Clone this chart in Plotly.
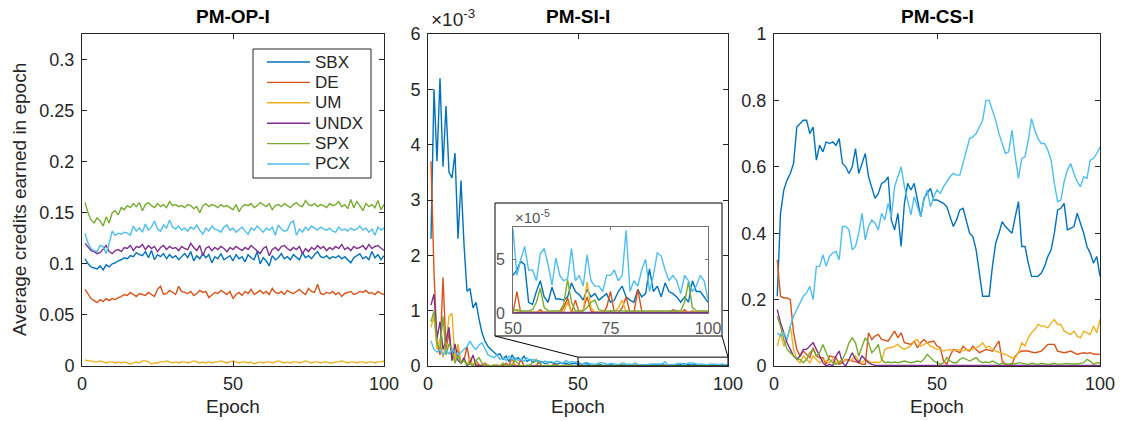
import plotly.graph_objects as go

W, H = 1126, 421
epochs = list(range(1, 101))
operators = ["SBX", "DE", "UM", "UNDX", "SPX", "PCX"]
colors = ["#0072BD", "#D95319", "#EDB120", "#7E2F8E", "#77AC30", "#4DBEEE"]
titles = ["PM-OP-I", "PM-SI-I", "PM-CS-I"]

# ---------------- PM-OP-I ----------------
op_sbx = [0.105, 0.100, 0.097, 0.096, 0.095, 0.098, 0.094, 0.099, 0.097, 0.100,
          0.101, 0.103, 0.104, 0.106, 0.105, 0.108, 0.107, 0.111, 0.109, 0.108,
          0.112, 0.106, 0.113, 0.104, 0.109, 0.107, 0.110, 0.105, 0.109, 0.106,
          0.108, 0.104, 0.107, 0.110, 0.106, 0.112, 0.103, 0.108, 0.105, 0.110,
          0.106, 0.109, 0.101, 0.107, 0.105, 0.110, 0.104, 0.106, 0.108, 0.103,
          0.109, 0.105, 0.107, 0.102, 0.109, 0.106, 0.104, 0.112, 0.100, 0.106,
          0.103, 0.098, 0.108, 0.104, 0.106, 0.110, 0.105, 0.107, 0.104, 0.109,
          0.106, 0.104, 0.111, 0.106, 0.108, 0.105, 0.109, 0.112, 0.107, 0.106,
          0.108, 0.105, 0.107, 0.106, 0.108, 0.105, 0.107, 0.104, 0.101, 0.106,
          0.108, 0.110, 0.105, 0.107, 0.104, 0.112, 0.106, 0.109, 0.104, 0.108]
op_de = [0.075, 0.070, 0.066, 0.064, 0.062, 0.065, 0.063, 0.066, 0.064, 0.066,
         0.065, 0.067, 0.068, 0.070, 0.069, 0.072, 0.070, 0.068, 0.071, 0.070,
         0.069, 0.072, 0.070, 0.068, 0.075, 0.078, 0.070, 0.071, 0.074, 0.072,
         0.070, 0.078, 0.073, 0.072, 0.071, 0.073, 0.069, 0.071, 0.074, 0.072,
         0.073, 0.067, 0.070, 0.072, 0.071, 0.074, 0.072, 0.070, 0.073, 0.066,
         0.070, 0.072, 0.069, 0.073, 0.071, 0.075, 0.070, 0.072, 0.074, 0.071,
         0.073, 0.070, 0.076, 0.072, 0.071, 0.073, 0.070, 0.074, 0.072, 0.071,
         0.073, 0.075, 0.072, 0.070, 0.076, 0.073, 0.072, 0.080, 0.071, 0.070,
         0.072, 0.071, 0.073, 0.070, 0.072, 0.068, 0.071, 0.072, 0.073, 0.070,
         0.071, 0.073, 0.072, 0.074, 0.071, 0.072, 0.070, 0.073, 0.071, 0.070]
op_um = [0.006, 0.005, 0.005, 0.004, 0.004, 0.005, 0.004, 0.003, 0.004, 0.004,
         0.003, 0.004, 0.003, 0.004, 0.003, 0.002, 0.003, 0.004, 0.003, 0.005,
         0.005, 0.004, 0.002, 0.003, 0.003, 0.004, 0.004, 0.005, 0.004, 0.003,
         0.004, 0.003, 0.004, 0.004, 0.003, 0.004, 0.005, 0.004, 0.003, 0.004,
         0.003, 0.004, 0.003, 0.004, 0.004, 0.005, 0.004, 0.003, 0.004, 0.005,
         0.004, 0.003, 0.004, 0.004, 0.003, 0.004, 0.002, 0.003, 0.004, 0.003,
         0.004, 0.004, 0.003, 0.004, 0.005, 0.004, 0.003, 0.004, 0.003, 0.004,
         0.004, 0.003, 0.004, 0.005, 0.004, 0.003, 0.004, 0.004, 0.003, 0.004,
         0.004, 0.003, 0.003, 0.004, 0.004, 0.005, 0.004, 0.003, 0.004, 0.004,
         0.003, 0.004, 0.004, 0.003, 0.004, 0.004, 0.003, 0.004, 0.004, 0.005]
op_undx = [0.120, 0.116, 0.113, 0.112, 0.110, 0.111, 0.114, 0.118, 0.112, 0.110,
           0.113, 0.114, 0.112, 0.116, 0.115, 0.118, 0.113, 0.117, 0.116, 0.119,
           0.114, 0.118, 0.115, 0.117, 0.112, 0.116, 0.118, 0.114, 0.117, 0.115,
           0.116, 0.113, 0.117, 0.115, 0.114, 0.120, 0.116, 0.113, 0.118, 0.108,
           0.115, 0.117, 0.113, 0.116, 0.114, 0.117, 0.115, 0.112, 0.116, 0.114,
           0.117, 0.115, 0.113, 0.116, 0.114, 0.118, 0.115, 0.113, 0.110, 0.115,
           0.117, 0.108, 0.114, 0.116, 0.113, 0.117, 0.118, 0.115, 0.113, 0.116,
           0.114, 0.117, 0.110, 0.115, 0.112, 0.116, 0.114, 0.118, 0.115, 0.117,
           0.113, 0.116, 0.114, 0.117, 0.115, 0.119, 0.114, 0.116, 0.113, 0.117,
           0.115, 0.116, 0.118, 0.114, 0.119, 0.115, 0.117, 0.118, 0.115, 0.113]
op_spx = [0.160, 0.150, 0.143, 0.140, 0.145, 0.142, 0.137, 0.146, 0.140, 0.150,
          0.152, 0.148, 0.155, 0.153, 0.157, 0.155, 0.159, 0.156, 0.160, 0.152,
          0.158, 0.160, 0.157, 0.155, 0.159, 0.156, 0.158, 0.155, 0.161, 0.157,
          0.158, 0.156, 0.157, 0.155, 0.158, 0.157, 0.154, 0.156, 0.150, 0.157,
          0.159, 0.156, 0.158, 0.157, 0.155, 0.158, 0.156, 0.157, 0.155, 0.153,
          0.158, 0.151, 0.156, 0.158, 0.157, 0.159, 0.155, 0.157, 0.160, 0.158,
          0.156, 0.159, 0.153, 0.157, 0.158, 0.156, 0.159, 0.157, 0.155, 0.158,
          0.160, 0.157, 0.156, 0.162, 0.158, 0.157, 0.159, 0.156, 0.158, 0.157,
          0.155, 0.159, 0.157, 0.158, 0.161, 0.156, 0.158, 0.154, 0.163, 0.155,
          0.161, 0.157, 0.152, 0.159, 0.156, 0.158, 0.155, 0.162, 0.153, 0.158]
op_pcx = [0.130, 0.120, 0.115, 0.113, 0.112, 0.118, 0.117, 0.110, 0.120, 0.132,
          0.128, 0.130, 0.129, 0.131, 0.130, 0.128, 0.137, 0.132, 0.135, 0.131,
          0.139, 0.133, 0.136, 0.142, 0.134, 0.132, 0.138, 0.135, 0.143, 0.136,
          0.134, 0.137, 0.133, 0.135, 0.132, 0.136, 0.134, 0.138, 0.133, 0.129,
          0.135, 0.132, 0.137, 0.134, 0.133, 0.131, 0.136, 0.138, 0.133, 0.135,
          0.131, 0.134, 0.136, 0.132, 0.129, 0.135, 0.133, 0.137, 0.134, 0.131,
          0.135, 0.133, 0.136, 0.128, 0.138, 0.134, 0.132, 0.133, 0.140, 0.142,
          0.128, 0.134, 0.131, 0.136, 0.133, 0.137, 0.135, 0.133, 0.136, 0.134,
          0.133, 0.135, 0.132, 0.131, 0.136, 0.133, 0.134, 0.132, 0.135, 0.133,
          0.134, 0.137, 0.133, 0.135, 0.131, 0.134, 0.128, 0.136, 0.133, 0.135]

# ---------------- PM-SI-I (values in units of 1e-3) ----------------
si_sbx = [2.30, 5.00, 3.70, 5.20, 3.60, 4.70, 3.50, 3.40, 3.85, 2.30,
          3.35, 2.20, 1.35, 1.40, 1.05, 1.15, 0.85, 0.60, 0.45, 0.35,
          0.30, 0.25, 0.20, 0.22, 0.12, 0.18, 0.08, 0.20, 0.12, 0.15,
          0.10, 0.18, 0.08, 0.12, 0.06, 0.10, 0.05, 0.08, 0.04, 0.06,
          0.07, 0.05, 0.03, 0.06, 0.04, 0.05, 0.03, 0.04, 0.05, 0.035,
          0.040, 0.048, 0.045, 0.010, 0.008, 0.020, 0.030, 0.015, 0.010, 0.024,
          0.013, 0.013, 0.012, 0.015, 0.028, 0.020, 0.017, 0.012, 0.022, 0.015,
          0.018, 0.012, 0.015, 0.018, 0.010, 0.012, 0.020, 0.025, 0.015, 0.012,
          0.010, 0.022, 0.015, 0.018, 0.041, 0.020, 0.025, 0.015, 0.028, 0.020,
          0.018, 0.015, 0.010, 0.015, 0.010, 0.030, 0.020, 0.020, 0.015, 0.010]
si_de = [3.70, 1.70, 0.40, 0.20, 1.60, 0.30, 0.60, 0.10, 0.20, 0.30,
         0.05, 0.10, 0.35, 0.05, 0.00, 0.10, 0.02, 0.00, 0.05, 0.00,
         0.00, 0.00, 0.02, 0.00, 0.00, 0.05, 0.00, 0.15, 0.00, 0.00,
         0.12, 0.00, 0.00, 0.02, 0.00, 0.00, 0.08, 0.00, 0.00, 0.00,
         0.00, 0.03, 0.00, 0.00, 0.00, 0.02, 0.00, 0.00, 0.00, 0.00,
         0.020, 0.000, 0.000, 0.000, 0.000, 0.000, 0.003, 0.000, 0.000, 0.000,
         0.000, 0.000, 0.005, 0.014, 0.000, 0.012, 0.000, 0.003, 0.015, 0.002,
         0.000, 0.000, 0.000, 0.005, 0.020, 0.000, 0.000, 0.005, 0.015, 0.000,
         0.000, 0.022, 0.002, 0.000, 0.000, 0.000, 0.000, 0.000, 0.000, 0.000,
         0.003, 0.002, 0.000, 0.003, 0.000, 0.002, 0.000, 0.000, 0.000, 0.000]
si_um = [0.70, 0.90, 0.30, 0.50, 0.15, 0.40, 0.90, 0.95, 0.10, 0.40,
         0.05, 0.10, 0.02, 0.15, 0.00, 0.05, 0.00, 0.02, 0.00, 0.00,
         0.00, 0.02, 0.00, 0.00, 0.05, 0.00, 0.00, 0.00, 0.03, 0.00,
         0.00, 0.00, 0.00, 0.00, 0.00, 0.02, 0.00, 0.00, 0.00, 0.00,
         0.00, 0.00, 0.00, 0.00, 0.00, 0.00, 0.00, 0.00, 0.00, 0.00,
         0.001, 0.001, 0.001, 0.001, 0.001, 0.001, 0.001, 0.001, 0.001, 0.001,
         0.001, 0.001, 0.001, 0.010, 0.001, 0.001, 0.001, 0.002, 0.029, 0.005,
         0.001, 0.001, 0.001, 0.001, 0.001, 0.001, 0.005, 0.012, 0.001, 0.001,
         0.001, 0.001, 0.001, 0.001, 0.001, 0.001, 0.001, 0.001, 0.001, 0.001,
         0.001, 0.001, 0.001, 0.001, 0.001, 0.001, 0.001, 0.001, 0.001, 0.001]
si_undx = [1.10, 1.30, 0.50, 0.80, 0.30, 0.45, 0.70, 0.10, 0.40, 0.10,
           0.05, 0.15, 0.00, 0.05, 0.20, 0.00, 0.02, 0.00, 0.00, 0.00,
           0.00, 0.00, 0.00, 0.01, 0.00, 0.00, 0.00, 0.00, 0.00, 0.00,
           0.00, 0.00, 0.00, 0.00, 0.00, 0.00, 0.00, 0.00, 0.00, 0.00,
           0.00, 0.00, 0.00, 0.00, 0.00, 0.00, 0.00, 0.00, 0.00, 0.00,
           0.0005, 0.0005, 0.0005, 0.0005, 0.0005, 0.0005, 0.0005, 0.0005, 0.0005, 0.0005,
           0.0005, 0.0005, 0.0005, 0.0005, 0.0005, 0.0005, 0.0005, 0.0005, 0.0005, 0.0005,
           0.0005, 0.0005, 0.0005, 0.0005, 0.0005, 0.0005, 0.0005, 0.0005, 0.0005, 0.0005,
           0.0005, 0.0005, 0.0005, 0.0005, 0.0005, 0.0005, 0.0005, 0.0005, 0.0005, 0.0005,
           0.0005, 0.0005, 0.0005, 0.0005, 0.0005, 0.0005, 0.0005, 0.0005, 0.0005, 0.0005]
si_spx = [0.80, 1.00, 0.40, 0.30, 0.90, 0.20, 0.40, 0.30, 0.05, 0.20,
          0.05, 0.10, 0.02, 0.05, 0.00, 0.10, 0.15, 0.05, 0.00, 0.02,
          0.00, 0.02, 0.00, 0.00, 0.05, 0.00, 0.00, 0.03, 0.10, 0.05,
          0.00, 0.00, 0.02, 0.00, 0.08, 0.12, 0.05, 0.00, 0.00, 0.02,
          0.00, 0.00, 0.03, 0.00, 0.00, 0.00, 0.02, 0.00, 0.00, 0.002,
          0.003, 0.002, 0.002, 0.002, 0.003, 0.010, 0.023, 0.005, 0.002, 0.002,
          0.002, 0.002, 0.008, 0.031, 0.010, 0.002, 0.002, 0.002, 0.005, 0.010,
          0.012, 0.003, 0.002, 0.002, 0.002, 0.002, 0.002, 0.002, 0.002, 0.002,
          0.002, 0.002, 0.002, 0.002, 0.002, 0.002, 0.002, 0.002, 0.002, 0.002,
          0.002, 0.002, 0.002, 0.010, 0.029, 0.005, 0.002, 0.002, 0.002, 0.002]
si_pcx = [0.45, 0.30, 0.25, 0.30, 0.20, 0.28, 0.22, 0.30, 0.25, 0.20,
          0.25, 0.30, 0.35, 0.45, 0.35, 0.30, 0.38, 0.42, 0.30, 0.20,
          0.18, 0.15, 0.20, 0.12, 0.15, 0.10, 0.18, 0.12, 0.15, 0.10,
          0.12, 0.08, 0.15, 0.10, 0.12, 0.08, 0.10, 0.06, 0.09, 0.07,
          0.08, 0.06, 0.09, 0.07, 0.05, 0.10, 0.06, 0.08, 0.07, 0.078,
          0.035, 0.050, 0.062, 0.040, 0.040, 0.030, 0.055, 0.060, 0.045, 0.026,
          0.051, 0.035, 0.030, 0.032, 0.060, 0.030, 0.035, 0.025, 0.054, 0.030,
          0.025, 0.025, 0.020, 0.035, 0.035, 0.040, 0.030, 0.035, 0.077, 0.020,
          0.030, 0.025, 0.040, 0.050, 0.020, 0.035, 0.056, 0.053, 0.040, 0.030,
          0.035, 0.030, 0.018, 0.035, 0.030, 0.020, 0.025, 0.035, 0.030, 0.013]

# ---------------- PM-CS-I ----------------
cs_sbx = [0.21, 0.46, 0.53, 0.56, 0.58, 0.61, 0.72, 0.73, 0.74, 0.74,
          0.70, 0.72, 0.62, 0.665, 0.645, 0.675, 0.67, 0.675, 0.665, 0.685,
          0.61, 0.60, 0.58, 0.60, 0.655, 0.58, 0.61, 0.64, 0.57, 0.54,
          0.505, 0.52, 0.55, 0.555, 0.57, 0.44, 0.41, 0.46, 0.36, 0.49,
          0.55, 0.53, 0.55, 0.50, 0.45, 0.505, 0.52, 0.535, 0.50, 0.50,
          0.495, 0.49, 0.48, 0.45, 0.42, 0.44, 0.47, 0.475, 0.44, 0.40,
          0.39, 0.35, 0.28, 0.21, 0.21, 0.21, 0.30, 0.37, 0.40, 0.435,
          0.42, 0.41, 0.40, 0.45, 0.495, 0.36, 0.36, 0.31, 0.27, 0.27,
          0.27, 0.28, 0.30, 0.33, 0.35, 0.40, 0.47, 0.475, 0.49, 0.41,
          0.415, 0.42, 0.46, 0.43, 0.40, 0.36, 0.34, 0.31, 0.33, 0.27]
cs_de = [0.32, 0.21, 0.205, 0.205, 0.20, 0.10, 0.05, 0.03, 0.045, 0.035,
         0.025, 0.055, 0.03, 0.025, 0.025, 0.005, 0.03, 0.028, 0.025, 0.005,
         0.01, 0.02, 0.018, 0.015, 0.012, 0.01, 0.005, 0.005, 0.10, 0.08,
         0.09, 0.095, 0.08, 0.078, 0.075, 0.09, 0.105, 0.085, 0.10, 0.07,
         0.068, 0.065, 0.075, 0.055, 0.07, 0.08, 0.07, 0.072, 0.075, 0.06,
         0.055, 0.015, 0.005, 0.03, 0.05, 0.045, 0.04, 0.06, 0.05, 0.045,
         0.06, 0.05, 0.04, 0.045, 0.05, 0.048, 0.045, 0.06, 0.075, 0.015,
         0.005, 0.005, 0.005, 0.03, 0.04, 0.045, 0.045, 0.045, 0.042, 0.04,
         0.042, 0.045, 0.055, 0.065, 0.065, 0.065, 0.045, 0.042, 0.04, 0.042,
         0.045, 0.04, 0.035, 0.038, 0.04, 0.038, 0.04, 0.036, 0.035, 0.035]
cs_um = [0.06, 0.10, 0.06, 0.08, 0.12, 0.05, 0.02, 0.01, 0.03, 0.02,
         0.01, 0.03, 0.02, 0.01, 0.02, 0.015, 0.01, 0.02, 0.01, 0.015,
         0.01, 0.02, 0.015, 0.02, 0.03, 0.015, 0.01, 0.02, 0.015, 0.01,
         0.012, 0.01, 0.015, 0.05, 0.055, 0.055, 0.06, 0.065, 0.055, 0.05,
         0.055, 0.06, 0.075, 0.08, 0.06, 0.065, 0.07, 0.06, 0.055, 0.05,
         0.05, 0.045, 0.048, 0.05, 0.045, 0.05, 0.048, 0.045, 0.05, 0.048,
         0.05, 0.055, 0.06, 0.07, 0.055, 0.06, 0.05, 0.045, 0.042, 0.04,
         0.035, 0.03, 0.025, 0.025, 0.04, 0.07, 0.06, 0.085, 0.10, 0.11,
         0.125, 0.12, 0.12, 0.115, 0.13, 0.14, 0.125, 0.125, 0.105, 0.10,
         0.095, 0.105, 0.09, 0.085, 0.105, 0.10, 0.095, 0.12, 0.10, 0.14]
cs_undx = [0.17, 0.13, 0.10, 0.07, 0.05, 0.03, 0.02, 0.03, 0.05, 0.05,
           0.06, 0.07, 0.05, 0.03, 0.01, 0.00, 0.005, 0.00, 0.03, 0.045,
           0.01, 0.00, 0.02, 0.04, 0.02, 0.01, 0.03, 0.02, 0.01, 0.005,
           0.002, 0.002, 0.002, 0.002, 0.002, 0.002, 0.002, 0.002, 0.002, 0.002,
           0.002, 0.002, 0.002, 0.002, 0.002, 0.002, 0.002, 0.002, 0.002, 0.002,
           0.002, 0.002, 0.002, 0.002, 0.002, 0.002, 0.002, 0.002, 0.002, 0.002,
           0.002, 0.002, 0.002, 0.002, 0.002, 0.002, 0.002, 0.002, 0.002, 0.002,
           0.002, 0.002, 0.002, 0.002, 0.002, 0.002, 0.002, 0.002, 0.002, 0.002,
           0.002, 0.002, 0.002, 0.002, 0.002, 0.002, 0.002, 0.002, 0.002, 0.002,
           0.002, 0.002, 0.002, 0.002, 0.002, 0.002, 0.002, 0.002, 0.002, 0.002]
cs_spx = [0.15, 0.12, 0.08, 0.05, 0.04, 0.03, 0.02, 0.02, 0.01, 0.02,
          0.04, 0.05, 0.03, 0.04, 0.065, 0.04, 0.02, 0.01, 0.005, 0.01,
          0.02, 0.04, 0.07, 0.085, 0.07, 0.03, 0.06, 0.085, 0.07, 0.04,
          0.05, 0.065, 0.02, 0.01, 0.012, 0.01, 0.012, 0.01, 0.012, 0.015,
          0.012, 0.01, 0.012, 0.015, 0.012, 0.02, 0.035, 0.025, 0.015, 0.01,
          0.005, 0.01, 0.025, 0.015, 0.01, 0.01, 0.02, 0.025, 0.02, 0.015,
          0.02, 0.025, 0.015, 0.01, 0.012, 0.01, 0.015, 0.01, 0.005, 0.008,
          0.006, 0.005, 0.008, 0.006, 0.01, 0.008, 0.006, 0.005, 0.008, 0.006,
          0.005, 0.008, 0.006, 0.005, 0.006, 0.008, 0.005, 0.006, 0.005, 0.008,
          0.006, 0.005, 0.006, 0.008, 0.01, 0.02, 0.015, 0.005, 0.01, 0.01]
cs_pcx = [0.10, 0.09, 0.10, 0.08, 0.12, 0.15, 0.17, 0.19, 0.21, 0.22,
          0.24, 0.20, 0.30, 0.30, 0.335, 0.30, 0.33, 0.34, 0.345, 0.32,
          0.42, 0.42, 0.41, 0.35, 0.36, 0.40, 0.46, 0.38, 0.42, 0.44,
          0.43, 0.41, 0.46, 0.44, 0.49, 0.45, 0.54, 0.57, 0.60, 0.54,
          0.50, 0.455, 0.51, 0.48, 0.45, 0.50, 0.53, 0.48, 0.51, 0.53,
          0.52, 0.54, 0.555, 0.57, 0.58, 0.575, 0.575, 0.61, 0.65, 0.685,
          0.69, 0.70, 0.72, 0.74, 0.80, 0.80, 0.77, 0.74, 0.70, 0.67,
          0.64, 0.645, 0.71, 0.63, 0.565, 0.625, 0.63, 0.68, 0.745, 0.71,
          0.685, 0.67, 0.67, 0.65, 0.62, 0.55, 0.495, 0.50, 0.555, 0.59,
          0.61, 0.58, 0.555, 0.54, 0.57, 0.565, 0.62, 0.625, 0.64, 0.66]

op_series = [op_sbx, op_de, op_um, op_undx, op_spx, op_pcx]
si_series = [si_sbx, si_de, si_um, si_undx, si_spx, si_pcx]
cs_series = [cs_sbx, cs_de, cs_um, cs_undx, cs_spx, cs_pcx]

x_ticks = [0, 50, 100]
op_yticks = [0, 0.05, 0.1, 0.15, 0.2, 0.25, 0.3]
op_yticklabels = ["0", "0.05", "0.1", "0.15", "0.2", "0.25", "0.3"]
si_yticks = [0, 1, 2, 3, 4, 5, 6]
cs_yticks = [0, 0.2, 0.4, 0.6, 0.8, 1]
cs_yticklabels = ["0", "0.2", "0.4", "0.6", "0.8", "1"]
inset_xticks = [50, 75, 100]
inset_yticks = [0, 0.05]
inset_yticklabels = ["0", "5"]

# ---------------- layout geometry (pixels) ----------------
def px_x(p):
    return p / W

def px_y(p):
    return 1 - p / H

panel_x = [(82, 384), (428, 728), (774, 1100)]
panel_top, panel_bot = 34, 366
inset_x = (513, 708)
inset_y = (227, 313)
inset_box = (495, 203, 722, 336)
legend_box = (253, 49, 371, 178)
legend_first_y, legend_step = 62, 20.4
legend_line = (267, 310)
si_range = [0, 6]
zoom_top = 0.16

AX = "#262626"
FONT = "Liberation Sans, Arial, Helvetica, sans-serif"
LW = 1.4

fig = go.Figure()

panels = [op_series, si_series, cs_series]
for p, series in enumerate(panels):
    ax = "" if p == 0 else str(p + 1)
    for name, col, vals in zip(operators, colors, series):
        fig.add_trace(go.Scatter(
            x=epochs, y=vals, mode="lines", name=name,
            line=dict(color=col, width=LW),
            xaxis="x" + ax, yaxis="y" + ax,
            showlegend=False, hoverinfo="skip"))

# inset traces (epochs 50..100 of PM-SI-I)
for name, col, vals in zip(operators, colors, si_series):
    fig.add_trace(go.Scatter(
        x=epochs[49:], y=vals[49:], mode="lines", name=name,
        line=dict(color=col, width=LW),
        xaxis="x4", yaxis="y4", showlegend=False, hoverinfo="skip"))

common_ax = dict(showline=True, linecolor=AX, linewidth=1, mirror="ticks",
                 ticks="inside", ticklen=5, tickcolor=AX, showgrid=False,
                 zeroline=False, automargin=False,
                 tickfont=dict(size=18, color=AX, family=FONT))

yranges = [[0, 0.325], si_range, [0, 1]]
ytickv = [op_yticks, si_yticks, cs_yticks]
ytickt = [op_yticklabels, [str(v) for v in si_yticks], cs_yticklabels]
lay = {}
for p in range(3):
    suf = "" if p == 0 else str(p + 1)
    x0, x1 = panel_x[p]
    lay["xaxis" + suf] = dict(common_ax, domain=[px_x(x0), px_x(x1)], range=[0, 100],
                              tickvals=x_ticks, anchor="y" + suf, ticklabelstandoff=1)
    lay["yaxis" + suf] = dict(common_ax, domain=[px_y(panel_bot), px_y(panel_top)],
                              range=yranges[p], tickvals=ytickv[p], ticktext=ytickt[p],
                              anchor="x" + suf, ticklabelstandoff=3)

INS = "#555555"
INSL = "#707070"
lay["xaxis4"] = dict(common_ax, domain=[px_x(inset_x[0]), px_x(inset_x[1])], range=[50, 100],
                     tickvals=inset_xticks, anchor="y4", linecolor=INSL,
                     tickcolor=INSL, tickfont=dict(size=16, color=INS, family=FONT), ticklen=3,
                     ticklabelstandoff=1)
lay["yaxis4"] = dict(common_ax, domain=[px_y(inset_y[1]), px_y(inset_y[0])], range=[0, 0.08],
                     tickvals=inset_yticks, ticktext=inset_yticklabels, anchor="x4",
                     linecolor=INSL, tickcolor=INSL,
                     tickfont=dict(size=16, color=INS, family=FONT), ticklen=3,
                     ticklabelstandoff=4)

annotations = []
for p in range(3):
    x0, x1 = panel_x[p]
    annotations.append(dict(text="<b>%s</b>" % titles[p], x=px_x((x0 + x1) / 2), y=px_y(16),
                            xref="paper", yref="paper", showarrow=False,
                            xanchor="center", yanchor="middle",
                            font=dict(size=19, color="black", family=FONT)))
    annotations.append(dict(text="Epoch", x=px_x((x0 + x1) / 2), y=px_y(406),
                            xref="paper", yref="paper", showarrow=False,
                            xanchor="center", yanchor="middle",
                            font=dict(size=19, color=AX, family=FONT)))
annotations.append(dict(text="Average credits earned in epoch", x=px_x(19), y=px_y(200),
                        xref="paper", yref="paper", showarrow=False, textangle=-90,
                        xanchor="center", yanchor="middle",
                        font=dict(size=19, color=AX, family=FONT)))
annotations.append(dict(text="×10<sup>-3</sup>", x=px_x(429), y=px_y(18), xanchor="left",
                        yanchor="middle", xref="paper", yref="paper", showarrow=False,
                        font=dict(size=19, color=AX, family=FONT)))
annotations.append(dict(text="×10<sup>-5</sup>", x=px_x(513), y=px_y(216), xanchor="left",
                        yanchor="middle", xref="paper", yref="paper", showarrow=False,
                        font=dict(size=15, color=INS, family=FONT)))

# legend (drawn as layout items)
lx0, ly0, lx1, ly1 = legend_box
shapes = [dict(type="rect", xref="paper", yref="paper", x0=px_x(lx0), x1=px_x(lx1),
               y0=px_y(ly1), y1=px_y(ly0), line=dict(color=AX, width=1),
               fillcolor="white", layer="above")]
for i, (name, col) in enumerate(zip(operators, colors)):
    yy = legend_first_y + i * legend_step
    shapes.append(dict(type="line", xref="paper", yref="paper",
                       x0=px_x(legend_line[0]), x1=px_x(legend_line[1]),
                       y0=px_y(yy), y1=px_y(yy), line=dict(color=col, width=LW)))
    annotations.append(dict(text=name, x=px_x(legend_line[1] + 3), y=px_y(yy),
                            xanchor="left", yanchor="middle", xref="paper", yref="paper",
                            showarrow=False, font=dict(size=17, color=AX, family=FONT)))

# zoom rectangle and connectors
sx0, sx1 = panel_x[1]
def si_px(ep, val):
    xp = sx0 + (ep - 0) / 100 * (sx1 - sx0)
    yp = panel_bot - (val - si_range[0]) / (si_range[1] - si_range[0]) * (panel_bot - panel_top)
    return px_x(xp), px_y(yp)

zl = si_px(50, zoom_top)
zr = si_px(100, zoom_top)
bx0, by0, bx1, by1 = inset_box
shapes += [
    dict(type="rect", xref="x2", yref="y2", x0=50, x1=100, y0=0, y1=zoom_top,
         line=dict(color="black", width=1)),
    dict(type="rect", xref="paper", yref="paper", x0=px_x(bx0), x1=px_x(bx1),
         y0=px_y(by1), y1=px_y(by0), line=dict(color="black", width=1)),
    dict(type="line", xref="paper", yref="paper", x0=px_x(bx0), y0=px_y(by1),
         x1=zl[0], y1=zl[1], line=dict(color="black", width=1)),
    dict(type="line", xref="paper", yref="paper", x0=px_x(bx1), y0=px_y(by1),
         x1=zr[0], y1=zr[1], line=dict(color="black", width=1)),
]

fig.update_layout(
    width=W, height=H, margin=dict(l=0, r=0, t=0, b=0, pad=0, autoexpand=False),
    paper_bgcolor="white", plot_bgcolor="rgba(0,0,0,0)",
    font=dict(family=FONT, color=AX), showlegend=False,
    annotations=annotations, shapes=shapes,
    **lay)

fig.write_html("out.html", config={"displayModeBar": False},
               post_script="document.body.style.margin='0px';document.body.style.overflow='hidden';")
